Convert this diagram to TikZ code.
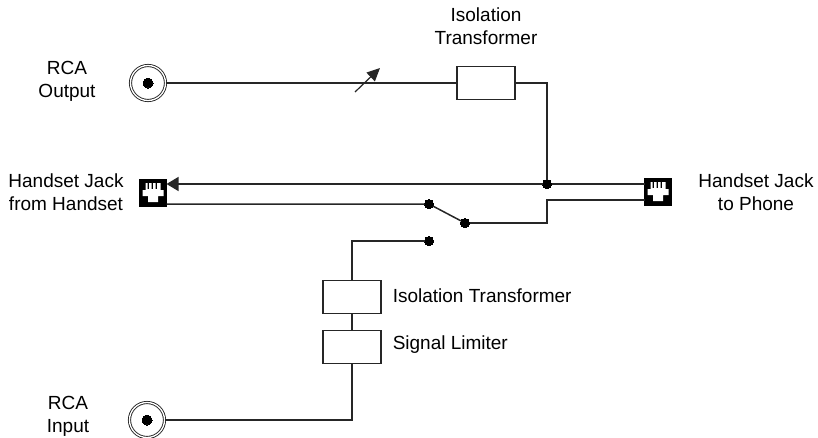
\documentclass[tikz,border=0pt]{standalone}
\usepackage{fontspec}
\setmainfont{Liberation Sans}
\usetikzlibrary{arrows.meta}

\begin{document}
\begin{tikzpicture}[x=1pt,y=-1pt,line width=1.5pt,color=black!85,font=\fontsize{19}{23}\selectfont]
    \tikzstyle{point}=[circle,draw=black,fill=black,line width=0pt,inner sep=0pt,minimum size=9pt]
    \tikzstyle{rca}=[circle,draw,double,double distance=1.3pt,line width=0.9pt,inner sep=0pt,minimum size=35pt]
    \tikzstyle{jack}=[rectangle,draw=black,fill=black,line width=0pt,inner sep=0pt,minimum size=27pt]
    \tikzstyle{unit}=[rectangle,draw,fill=white,inner sep=0pt,minimum width=58pt,minimum height=33pt]
    \tikzstyle{lbl}=[align=center,inner sep=0pt,text=black]
    \useasboundingbox (0,0) rectangle (818,437);
    % sockets
    \node (rcaOut)[rca] at (148,83) {};
    \node (rcaIn)[rca]  at (147,420) {};
    \node (dotOut)[point,minimum size=10pt] at (rcaOut) {};
    \node (dotIn)[point,minimum size=10pt]  at (rcaIn) {};
    \node (jackL)[jack] at (153,193) {};
    \node (jackR)[jack] at (658,192) {};
    \foreach \n in {jackL,jackR}
        \fill[white,shift={(\n.center)}] (-7.5,-10) -- (-5.5,-10) -- (-5.5,-4) -- (-4,-4) -- (-4,-10) -- (-1.5,-10) -- (-1.5,-4) -- (0,-4)
            -- (0,-10) -- (2.5,-10) -- (2.5,-4) -- (4,-4) -- (4,-10) -- (7.5,-10)
            -- (7.5,-3) -- (10.5,-3) -- (10.5,3) -- (5,3) -- (5,9) -- (-5,9) -- (-5,3) -- (-10.5,3) -- (-10.5,-3) -- (-7.5,-3) -- cycle;
    % boxes
    \node (xfmrTop)[unit] at (486,83) {};
    \node (xfmrLow)[unit] at (352,297) {};
    \node (limiter)[unit] at (352,347) {};
    % junction and switch
    \node (tee)[point] at (547,184) {};
    \node (swA)[point] at (429,204) {};
    \node (swB)[point] at (465,223) {};
    \node (swC)[point] at (429,241) {};
    \coordinate (kink) at (547,200);
    \coordinate (tuneA) at (355,92);
    \coordinate (tuneB) at (380,68);
    % wires
    \draw (rcaOut) -- (xfmrTop);
    \draw (xfmrTop) -| (tee);
    \draw (tee -| jackR.west) -- (tee);
    \draw[-{Triangle[length=12pt,width=14pt]}] (tee) -- (tee -| jackL.east);
    \draw (swA -| jackL.east) -- (swA) -- (swB);
    \draw (swB) -| (kink) -- (kink -| jackR.west);
    \draw (swC) -| (xfmrLow);
    \draw (xfmrLow) -- (limiter);
    \draw (limiter) |- (rcaIn);
    \draw[line width=1.2pt,-{Triangle[length=13pt,width=12pt]}] (tuneA) -- (tuneB);
    % labels
    \node (lblOut)[lbl] at (67,81) {RCA\\Output};
    \node (lblIn)[lbl]  at (68,416) {RCA\\Input};
    \node (lblL)[lbl]   at (66,192) {Handset Jack\\from Handset};
    \node (lblR)[lbl]   at (756,192) {Handset Jack\\to Phone};
    \node (lblTop)[lbl] at (486,26) {Isolation\\Transformer};
    \node (lblLow)[lbl,anchor=west] at (392,296) {Isolation Transformer};
    \node (lblLim)[lbl,anchor=west] at (392,345) {Signal Limiter};
\end{tikzpicture}
\end{document}
